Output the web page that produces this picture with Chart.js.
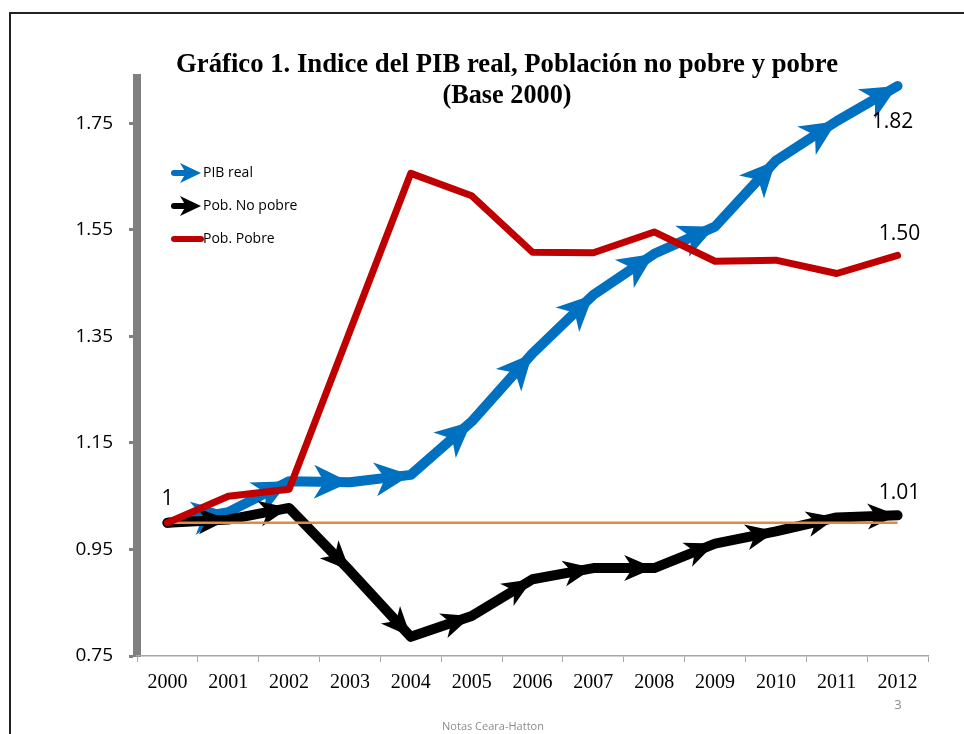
<!DOCTYPE html>
<html>
<head>
<meta charset="utf-8">
<script src="https://cdn.jsdelivr.net/npm/chart.js@4.4.1/dist/chart.umd.min.js"></script>
<style>
  body { margin: 0; background: #fff; }
  #wrap { width: 964px; height: 734px; }
</style>
</head>
<body>
<div id="wrap"><canvas id="myChart" width="964" height="734"></canvas></div>
<script>
const years = ['2000', '2001', '2002', '2003', '2004', '2005', '2006', '2007', '2008', '2009', '2010', '2011', '2012'];
const pibReal = [1.00, 1.02, 1.078, 1.076, 1.09, 1.19, 1.318, 1.428, 1.505, 1.556, 1.68, 1.754, 1.82];
const pobNoPobre = [1.00, 1.006, 1.028, 0.91, 0.786, 0.825, 0.894, 0.915, 0.915, 0.961, 0.984, 1.01, 1.014];
const pobPobre = [1.00, 1.05, 1.063, 1.36, 1.656, 1.614, 1.508, 1.507, 1.546, 1.491, 1.493, 1.468, 1.502];
const baseLine = [1, 1, 1, 1, 1, 1, 1, 1, 1, 1, 1, 1, 1];
const yTicks = [0.75, 0.95, 1.15, 1.35, 1.55, 1.75];

const BLUE = '#0070C0';
const RED = '#C00000';
const ORANGE = '#E6893F';

// punta de flecha tipo "stealth"
function drawArrow(c, x, y, ang, len, half, color) {
    c.save();
    c.translate(x, y);
    c.rotate(ang);
    c.fillStyle = color;
    c.beginPath();
    c.moveTo(0, 0);
    c.lineTo(-len, -half);
    c.lineTo(-len * 0.72, 0);
    c.lineTo(-len, half);
    c.closePath();
    c.fill();
    c.restore();
}

const arrowHeads = {
    id: 'arrowHeads',
    afterDatasetDraw(chart, args) {
        const ds = chart.data.datasets[args.index];
        if (!ds.arrowLen) return;
        const pts = args.meta.data;
        const c = chart.ctx;
        for (let i = 1; i < pts.length; i++) {
            const a = pts[i - 1], b = pts[i];
            const ang = Math.atan2(b.y - a.y, b.x - a.x);
            drawArrow(c, b.x, b.y, ang, ds.arrowLen, ds.arrowHalf, ds.borderColor);
        }
    }
};

const decor = {
    id: 'decor',
    beforeDraw(chart) {
        const c = chart.ctx;
        c.save();
        c.fillStyle = '#fff';
        c.fillRect(0, 0, chart.width, chart.height);
        c.strokeStyle = '#222';
        c.lineWidth = 2;
        c.beginPath();
        c.moveTo(10, 734);
        c.lineTo(10, 13);
        c.lineTo(964, 13);
        c.stroke();
        c.restore();
    },
    afterDraw(chart) {
        const c = chart.ctx;
        c.save();
        // titulo
        c.fillStyle = '#000';
        c.textAlign = 'center';
        c.textBaseline = 'alphabetic';
        c.font = 'bold 27px "Liberation Serif"';
        c.fillText('Gráfico 1. Indice del PIB real, Población no pobre y pobre', 507, 72, 662);
        c.fillText('(Base 2000)', 507, 103, 129);

        // etiquetas de valores
        c.font = '21px "Open Sans"';
        c.textBaseline = 'middle';
        const lbl = (dsIndex, idx, dx, dy, text) => {
            const p = chart.getDatasetMeta(dsIndex).data[idx];
            c.fillText(text, p.x + dx, p.y + dy);
        };
        const last = years.length - 1;
        lbl(2, 0, 0, -24, String(pobNoPobre[0]));
        lbl(0, last, -5, 36, pibReal[last].toFixed(2));
        lbl(2, last, 2, -21, pobPobre[last].toFixed(2));
        lbl(1, last, 2, -22, pobNoPobre[last].toFixed(2));

        // leyenda
        const items = [
            { text: 'PIB real', color: BLUE, y: 173, arrow: true },
            { text: 'Pob. No pobre', color: '#000', y: 206, arrow: true },
            { text: 'Pob. Pobre', color: RED, y: 239, arrow: false }
        ];
        c.lineCap = 'round';
        c.lineWidth = 6;
        items.forEach(it => {
            c.strokeStyle = it.color;
            c.beginPath();
            c.moveTo(174, it.y);
            c.lineTo(it.arrow ? 188 : 201, it.y);
            c.stroke();
            if (it.arrow) drawArrow(c, 201, it.y, 0, 21, 10, it.color);
        });
        c.font = '14px "Open Sans"';
        c.textAlign = 'left';
        c.fillStyle = '#000';
        items.forEach(it => c.fillText(it.text, 203, it.y));

        // pie
        c.fillStyle = '#8c8c8c';
        c.textAlign = 'center';
        c.font = '13px "Open Sans"';
        c.fillText('3', 898, 705);
        c.font = '11px "Open Sans"';
        c.fillText('Notas Ceara-Hatton', 493, 727, 107);
        c.restore();
    }
};

const ctx = document.getElementById('myChart').getContext('2d');
new Chart(ctx, {
    type: 'line',
    data: {
        labels: years,
        datasets: [{
            label: 'PIB real',
            data: pibReal,
            borderColor: BLUE,
            borderWidth: 10,
            arrowLen: 36,
            arrowHalf: 17,
            order: 3
        }, {
            label: 'Pob. No pobre',
            data: pobNoPobre,
            borderColor: '#000',
            borderWidth: 10,
            arrowLen: 30,
            arrowHalf: 13,
            order: 2
        }, {
            label: 'Pob. Pobre',
            data: pobPobre,
            borderColor: RED,
            borderWidth: 7,
            order: 0
        }, {
            label: 'Base',
            data: baseLine,
            borderColor: ORANGE,
            borderWidth: 2.5,
            borderCapStyle: 'butt',
            order: 1
        }]
    },
    options: {
        responsive: false,
        animation: false,
        elements: {
            point: { radius: 0, hoverRadius: 0 },
            line: { tension: 0, borderCapStyle: 'round', borderJoinStyle: 'round', fill: false }
        },
        layout: { padding: { top: 78, right: 36, left: 0, bottom: 0 } },
        plugins: {
            legend: { display: false },
            title: { display: false },
            tooltip: { enabled: false }
        },
        scales: {
            y: {
                min: 0.75,
                max: 1.835,
                afterBuildTicks: s => { s.ticks = yTicks.map(v => ({ value: v })); },
                afterFit: s => { s.width = 137; },
                border: { color: '#808080', width: 8 },
                grid: {
                    display: true,
                    drawOnChartArea: false,
                    drawTicks: true,
                    tickLength: 8,
                    tickWidth: 3,
                    tickColor: '#808080'
                },
                ticks: {
                    color: '#000',
                    padding: 16,
                    font: { family: 'Open Sans', size: 19 },
                    callback: v => v.toFixed(2)
                }
            },
            x: {
                offset: true,
                afterFit: s => { s.height = 734 - 656; },
                border: { color: '#a6a6a6', width: 1.5 },
                grid: {
                    display: true,
                    offset: true,
                    drawOnChartArea: false,
                    tickLength: 6,
                    tickColor: '#a6a6a6'
                },
                ticks: {
                    color: '#000',
                    padding: 9,
                    maxRotation: 0,
                    font: { family: 'Liberation Serif', size: 20 }
                }
            }
        }
    },
    plugins: [arrowHeads, decor]
});
</script>
</body>
</html>
